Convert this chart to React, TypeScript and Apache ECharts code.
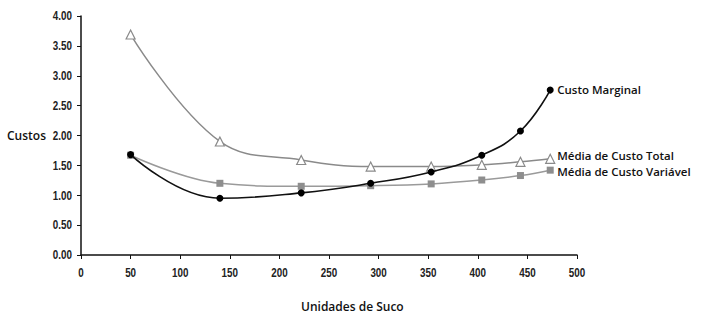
import React, { useEffect, useRef } from "react";
import * as echarts from "echarts";

const units = [50, 140, 222, 292, 353, 404, 443, 473];
const mediaCustoTotal = [3.69, 1.9, 1.59, 1.48, 1.48, 1.51, 1.56, 1.61];
const mediaCustoVariavel = [1.67, 1.2, 1.15, 1.16, 1.19, 1.255, 1.33, 1.42];
const custoMarginal = [1.68, 0.95, 1.04, 1.2, 1.39, 1.67, 2.075, 2.76];

const xTicks = [0, 50, 100, 150, 200, 250, 300, 350, 400, 450, 500];
const yTicks = ["0.00", "0.50", "1.00", "1.50", "2.00", "2.50", "3.00", "3.50", "4.00"];

const xName = "Unidades de Suco";
const yName = "Custos";
const names = ["Média de Custo Total", "Média de Custo Variável", "Custo Marginal"];

const labelFont = "'Open Sans', sans-serif";
const tickFont = "'Liberation Sans', Arial, sans-serif";

const pairs = (ys: number[]) => units.map((x, i) => [x, ys[i]]);

export default function App() {
  const ref = useRef<HTMLDivElement>(null);
  useEffect(() => {
    const chart = echarts.init(ref.current!, null, { renderer: "svg" });
    const endLabel = (dy: number) => ({
      show: true,
      formatter: "{a}",
      distance: 7,
      offset: [0, dy],
      fontFamily: labelFont,
      fontWeight: 600,
      fontSize: 11.5,
      lineHeight: 12,
      color: "#111",
    });
    chart.setOption({
      animation: false,
      backgroundColor: "#fff",
      grid: { left: 81, right: 130, top: 16, bottom: 70 },
      xAxis: {
        type: "value",
        min: 0,
        max: 500,
        interval: 50,
        splitLine: { show: false },
        axisLine: { lineStyle: { color: "#111", width: 1.5 } },
        axisTick: { show: true, length: 4, lineStyle: { color: "#111" } },
        axisLabel: { show: false },
      },
      yAxis: {
        type: "value",
        min: 0,
        max: 4,
        interval: 0.5,
        splitLine: { show: false },
        axisLine: { show: true, lineStyle: { color: "#111", width: 1.5 } },
        axisTick: { show: true, length: 4, lineStyle: { color: "#111" } },
        axisLabel: { show: false },
      },
      series: [
        {
          name: names[0],
          type: "line",
          data: pairs(mediaCustoTotal),
          smooth: 0.4,
          symbol: "triangle",
          symbolSize: 9,
          lineStyle: { color: "#8a8a8a", width: 1.5 },
          itemStyle: { color: "#fff", borderColor: "#8a8a8a", borderWidth: 1.2 },
          endLabel: endLabel(-3),
          z: 2,
        },
        {
          name: names[1],
          type: "line",
          data: pairs(mediaCustoVariavel),
          smooth: 0.4,
          symbol: "rect",
          symbolSize: 7,
          lineStyle: { color: "#9a9a9a", width: 1.5 },
          itemStyle: { color: "#8e8e8e", borderWidth: 0 },
          endLabel: endLabel(1.5),
          z: 3,
        },
        {
          name: names[2],
          type: "line",
          data: pairs(custoMarginal),
          smooth: 0.45,
          symbol: "circle",
          symbolSize: 7,
          lineStyle: { color: "#111", width: 1.6 },
          itemStyle: { color: "#000", borderWidth: 0 },
          endLabel: endLabel(-1),
          z: 4,
        },
      ],
    });

    const tickStyle = { fontFamily: tickFont, fontWeight: "bold", fontSize: 12, fill: "#222" };
    const y0 = chart.convertToPixel({ yAxisIndex: 0 }, 0) as number;
    const x0 = chart.convertToPixel({ xAxisIndex: 0 }, 0) as number;
    const graphics: any[] = [];
    xTicks.forEach((t) => {
      const px = chart.convertToPixel({ xAxisIndex: 0 }, t) as number;
      graphics.push({
        type: "text",
        x: px,
        y: y0 + 18,
        scaleX: 0.82,
        style: { ...tickStyle, text: String(t), align: "center", verticalAlign: "middle" },
      });
    });
    yTicks.forEach((t) => {
      const py = chart.convertToPixel({ yAxisIndex: 0 }, parseFloat(t)) as number;
      graphics.push({
        type: "text",
        x: x0 - 9,
        y: py,
        scaleX: 0.82,
        style: { ...tickStyle, text: t, align: "right", verticalAlign: "middle" },
      });
    });
    graphics.push(
      {
        type: "text",
        left: 7,
        top: 129,
        style: { text: yName, fontFamily: labelFont, fontWeight: 600, fontSize: 12, fill: "#111" },
      },
      {
        type: "text",
        left: 301,
        top: 300,
        style: { text: xName, fontFamily: labelFont, fontWeight: 600, fontSize: 12, fill: "#111" },
      }
    );
    chart.setOption({ graphic: graphics });
    return () => chart.dispose();
  }, []);
  return <div ref={ref} style={{ width: 707, height: 325, position: "fixed", left: 0, top: 0 }} />;
}
